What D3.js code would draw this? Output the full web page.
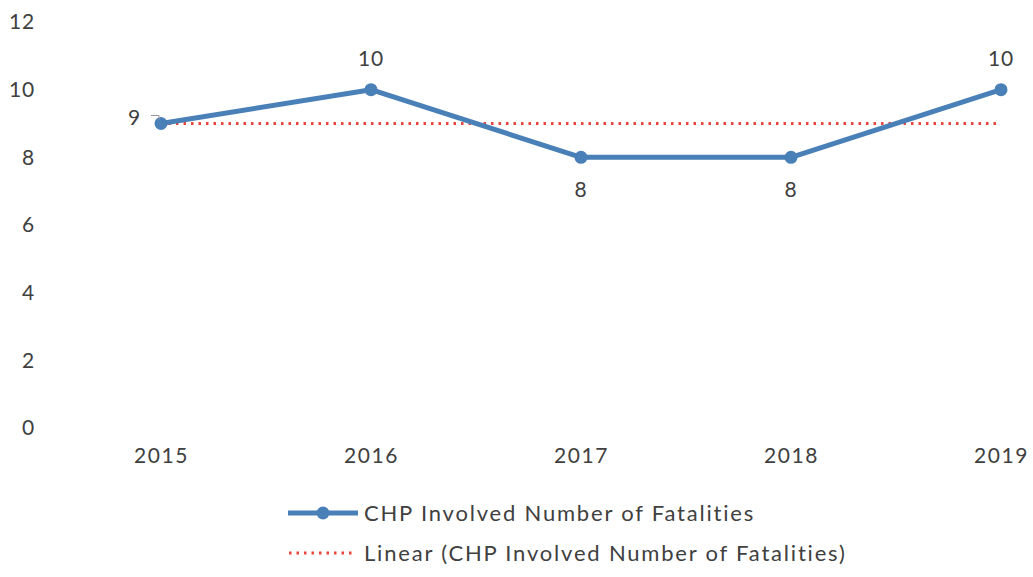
<!DOCTYPE html>
<html>
<head>
<meta charset="utf-8">
<script src="https://cdn.jsdelivr.net/npm/d3@7"></script>
<style>
  body { margin: 0; background: #fff; }
  svg text { font-family: "Lato", "Open Sans", sans-serif; fill: #404040; }
</style>
</head>
<body>
<svg id="chart" width="1033" height="577"></svg>
<script>
const years = ["2015", "2016", "2017", "2018", "2019"];
const fatalities = [9, 10, 8, 8, 10];
const yTicks = [0, 2, 4, 6, 8, 10, 12];
const seriesName = "CHP Involved Number of Fatalities";
const trendName = "Linear (CHP Involved Number of Fatalities)";
// label placement for each point
const labelPos = ["left", "above", "below", "below", "above"];

const svg = d3.select("#chart");

const x = d3.scalePoint().domain(years).range([161, 1001]);
const y = d3.scaleLinear().domain([0, 12]).range([428, 22]);

// least-squares trend line
const n = fatalities.length;
const idx = d3.range(n);
const mx = d3.mean(idx), my = d3.mean(fatalities);
const slope = d3.sum(idx, i => (i - mx) * (fatalities[i] - my)) / d3.sum(idx, i => (i - mx) ** 2);
const intercept = my - slope * mx;
const trend = idx.map(i => intercept + slope * i);

// y axis labels
const yAxis = svg.append("g").attr("transform", "translate(35,0)")
  .call(d3.axisLeft(y).tickValues(yTicks).tickSize(0).tickPadding(0));
yAxis.select(".domain").remove();
yAxis.selectAll("text").attr("font-size", 21).attr("fill", "#404040")
  .style("font-family", "Lato, sans-serif").attr("letter-spacing", 0.8);

// x axis labels
const xAxis = svg.append("g").attr("transform", "translate(0,448)")
  .call(d3.axisBottom(x).tickSize(0).tickPadding(0));
xAxis.select(".domain").remove();
xAxis.selectAll("text").attr("font-size", 21).attr("fill", "#404040")
  .attr("dy", "0.71em").attr("letter-spacing", 1.6)
  .style("font-family", "Lato, sans-serif");

// trend line
svg.append("path")
  .datum(trend)
  .attr("fill", "none")
  .attr("stroke", "#e8453c")
  .attr("stroke-width", 3)
  .attr("stroke-dasharray", "2.5 5")
  .attr("d", d3.line().x((d, i) => x(years[i])).y(d => y(d)));

// series line
svg.append("path")
  .datum(fatalities)
  .attr("fill", "none")
  .attr("stroke", "#4a80b8")
  .attr("stroke-width", 5)
  .attr("stroke-linejoin", "round")
  .attr("d", d3.line().x((d, i) => x(years[i])).y(d => y(d)));

svg.selectAll("circle.pt")
  .data(fatalities)
  .join("circle")
  .attr("class", "pt")
  .attr("cx", (d, i) => x(years[i]))
  .attr("cy", d => y(d))
  .attr("r", 6.5)
  .attr("fill", "#4a80b8");

// data labels
svg.selectAll("text.lbl")
  .data(fatalities)
  .join("text")
  .attr("class", "lbl")
  .attr("font-size", 21)
  .attr("letter-spacing", 0.8)
  .attr("x", (d, i) => labelPos[i] === "left" ? x(years[i]) - 20 : x(years[i]))
  .attr("y", (d, i) => {
    const p = labelPos[i];
    if (p === "above") return y(d) - 24;
    if (p === "below") return y(d) + 40;
    return y(d) + 1;
  })
  .attr("text-anchor", (d, i) => labelPos[i] === "left" ? "end" : "middle")
  .text(d => d);

// small leader tick next to the first label
svg.append("path")
  .attr("d", `M${x(years[0]) - 10},${y(fatalities[0]) - 8}h8v4`)
  .attr("fill", "none").attr("stroke", "#999").attr("stroke-width", 1);

// legend
const lg = svg.append("g");
lg.append("line").attr("x1", 288).attr("x2", 358).attr("y1", 513).attr("y2", 513)
  .attr("stroke", "#4a80b8").attr("stroke-width", 5);
lg.append("circle").attr("cx", 323).attr("cy", 513).attr("r", 6.5).attr("fill", "#4a80b8");
lg.append("text").attr("x", 364).attr("y", 521).attr("font-size", 22)
  .attr("letter-spacing", 1.8).text(seriesName);

lg.append("line").attr("x1", 289).attr("x2", 356).attr("y1", 553).attr("y2", 553)
  .attr("stroke", "#e8453c").attr("stroke-width", 3).attr("stroke-dasharray", "2.5 5");
lg.append("text").attr("x", 364).attr("y", 561).attr("font-size", 22)
  .attr("letter-spacing", 1.8).text(trendName);
</script>
</body>
</html>
